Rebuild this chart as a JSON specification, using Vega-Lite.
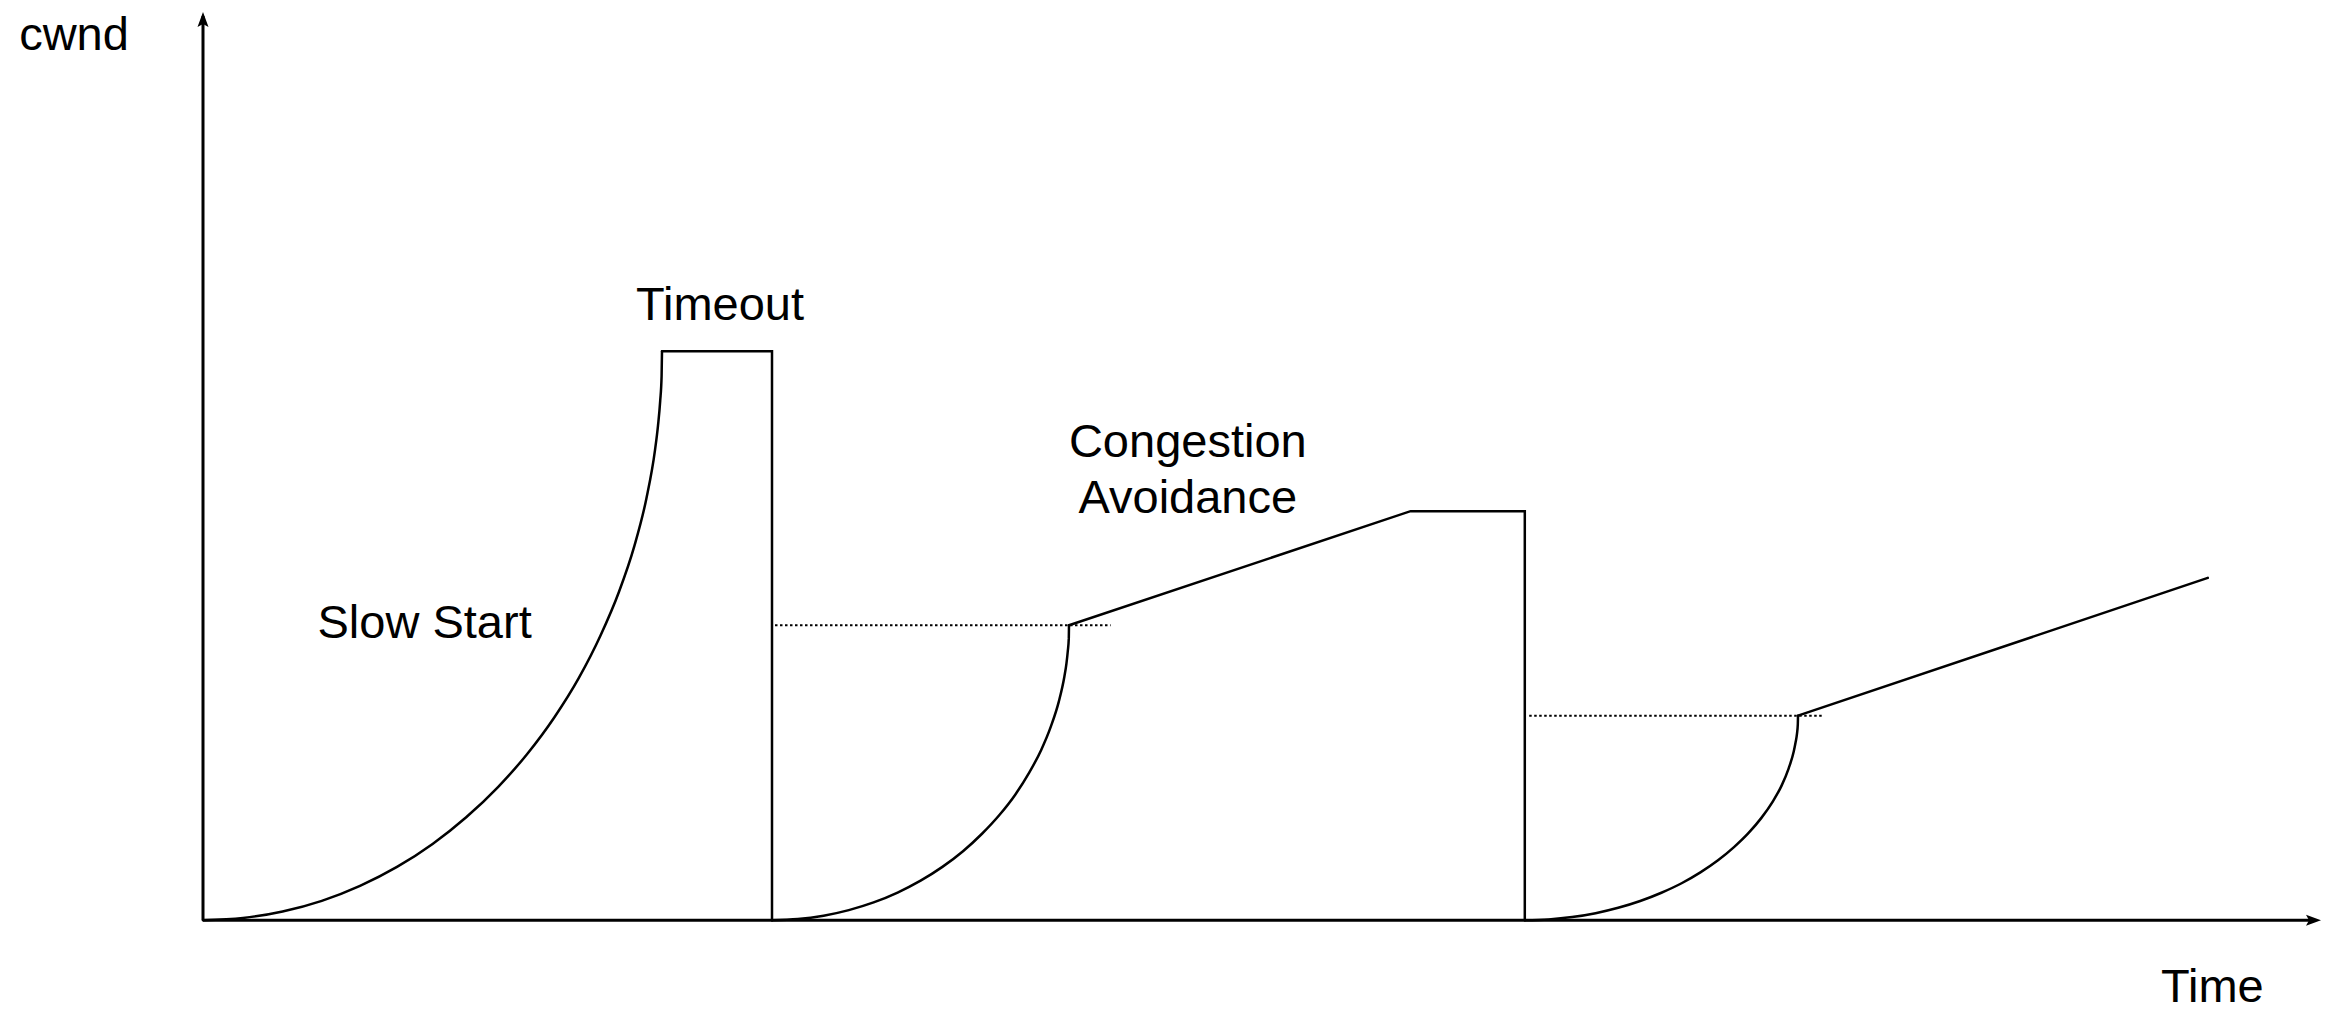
{
  "$schema": "https://vega.github.io/schema/vega-lite/v6.json",
  "width": 2328,
  "height": 1011,
  "autosize": {"type": "fit", "contains": "padding"},
  "padding": 0,
  "background": "white",
  "config": {"view": {"stroke": null}},
  "datasets": {
    "curves": [
      {"seg": "A", "o": 0, "t": 0, "c": 0},
      {"seg": "A", "o": 1, "t": 2.00, "c": 0.22},
      {"seg": "A", "o": 2, "t": 3.98, "c": 0.87},
      {"seg": "A", "o": 3, "t": 5.94, "c": 1.94},
      {"seg": "A", "o": 4, "t": 7.85, "c": 3.44},
      {"seg": "A", "o": 5, "t": 9.70, "c": 5.34},
      {"seg": "A", "o": 6, "t": 11.48, "c": 7.64},
      {"seg": "A", "o": 7, "t": 13.16, "c": 10.31},
      {"seg": "A", "o": 8, "t": 14.75, "c": 13.34},
      {"seg": "A", "o": 9, "t": 16.23, "c": 16.70},
      {"seg": "A", "o": 10, "t": 17.58, "c": 20.36},
      {"seg": "A", "o": 11, "t": 18.80, "c": 24.30},
      {"seg": "A", "o": 12, "t": 19.87, "c": 28.50},
      {"seg": "A", "o": 13, "t": 20.80, "c": 32.91},
      {"seg": "A", "o": 14, "t": 21.57, "c": 37.51},
      {"seg": "A", "o": 15, "t": 22.17, "c": 42.25},
      {"seg": "A", "o": 16, "t": 22.60, "c": 47.10},
      {"seg": "A", "o": 17, "t": 22.75, "c": 49.56},
      {"seg": "A", "o": 18, "t": 22.86, "c": 52.03},
      {"seg": "A", "o": 19, "t": 22.93, "c": 54.51},
      {"seg": "A", "o": 20, "t": 22.95, "c": 57.00},
      {"seg": "B", "o": 0, "t": 28.45, "c": 0},
      {"seg": "B", "o": 1, "t": 29.74, "c": 0.11},
      {"seg": "B", "o": 2, "t": 31.03, "c": 0.45},
      {"seg": "B", "o": 3, "t": 32.29, "c": 1.01},
      {"seg": "B", "o": 4, "t": 33.53, "c": 1.78},
      {"seg": "B", "o": 5, "t": 34.73, "c": 2.77},
      {"seg": "B", "o": 6, "t": 35.88, "c": 3.96},
      {"seg": "B", "o": 7, "t": 36.97, "c": 5.34},
      {"seg": "B", "o": 8, "t": 38.00, "c": 6.91},
      {"seg": "B", "o": 9, "t": 38.95, "c": 8.66},
      {"seg": "B", "o": 10, "t": 39.83, "c": 10.56},
      {"seg": "B", "o": 11, "t": 40.62, "c": 12.60},
      {"seg": "B", "o": 12, "t": 41.31, "c": 14.78},
      {"seg": "B", "o": 13, "t": 41.91, "c": 17.06},
      {"seg": "B", "o": 14, "t": 42.40, "c": 19.44},
      {"seg": "B", "o": 15, "t": 42.79, "c": 21.90},
      {"seg": "B", "o": 16, "t": 43.07, "c": 24.42},
      {"seg": "B", "o": 17, "t": 43.17, "c": 25.69},
      {"seg": "B", "o": 18, "t": 43.24, "c": 26.97},
      {"seg": "B", "o": 19, "t": 43.29, "c": 28.26},
      {"seg": "B", "o": 20, "t": 43.30, "c": 29.55},
      {"seg": "C", "o": 0, "t": 66.09, "c": 0},
      {"seg": "C", "o": 1, "t": 67.28, "c": 0.08},
      {"seg": "C", "o": 2, "t": 68.46, "c": 0.31},
      {"seg": "C", "o": 3, "t": 69.63, "c": 0.70},
      {"seg": "C", "o": 4, "t": 70.76, "c": 1.24},
      {"seg": "C", "o": 5, "t": 71.86, "c": 1.92},
      {"seg": "C", "o": 6, "t": 72.92, "c": 2.75},
      {"seg": "C", "o": 7, "t": 73.93, "c": 3.70},
      {"seg": "C", "o": 8, "t": 74.87, "c": 4.79},
      {"seg": "C", "o": 9, "t": 75.75, "c": 6.00},
      {"seg": "C", "o": 10, "t": 76.55, "c": 7.32},
      {"seg": "C", "o": 11, "t": 77.28, "c": 8.74},
      {"seg": "C", "o": 12, "t": 77.92, "c": 10.25},
      {"seg": "C", "o": 13, "t": 78.47, "c": 11.83},
      {"seg": "C", "o": 14, "t": 78.93, "c": 13.48},
      {"seg": "C", "o": 15, "t": 79.28, "c": 15.19},
      {"seg": "C", "o": 16, "t": 79.54, "c": 16.93},
      {"seg": "C", "o": 17, "t": 79.63, "c": 17.82},
      {"seg": "C", "o": 18, "t": 79.70, "c": 18.70},
      {"seg": "C", "o": 19, "t": 79.74, "c": 19.60},
      {"seg": "C", "o": 20, "t": 79.75, "c": 20.49}
    ],
    "straights": [
      {"seg": "A", "o": 0, "t": 22.95, "c": 57.00},
      {"seg": "A", "o": 1, "t": 28.45, "c": 57.00},
      {"seg": "A", "o": 2, "t": 28.45, "c": 0},
      {"seg": "B", "o": 0, "t": 43.30, "c": 29.55},
      {"seg": "B", "o": 1, "t": 60.38, "c": 40.98},
      {"seg": "B", "o": 2, "t": 66.09, "c": 40.98},
      {"seg": "B", "o": 3, "t": 66.09, "c": 0},
      {"seg": "C", "o": 0, "t": 79.75, "c": 20.49},
      {"seg": "C", "o": 1, "t": 100.24, "c": 34.30}
    ],
    "dotted": [
      {"seg": "D1", "o": 0, "t": 28.6, "c": 29.55},
      {"seg": "D1", "o": 1, "t": 45.38, "c": 29.55},
      {"seg": "D2", "o": 0, "t": 66.31, "c": 20.49},
      {"seg": "D2", "o": 1, "t": 80.94, "c": 20.49}
    ],
    "axes": [
      {"seg": "X", "o": 0, "t": 0, "c": 0},
      {"seg": "X", "o": 1, "t": 105.6, "c": 0},
      {"seg": "Y", "o": 0, "t": 0, "c": 0},
      {"seg": "Y", "o": 1, "t": 0, "c": 90.6}
    ],
    "arrows": [
      {"dir": "up", "t": 0, "c": 91.0},
      {"dir": "right", "t": 105.9, "c": 0}
    ],
    "labels": [
      {"label": "cwnd", "t": -6.45, "c": 88.6},
      {"label": "Time", "t": 100.47, "c": -6.8},
      {"label": "Timeout", "t": 25.85, "c": 61.5},
      {"label": "Congestion", "t": 49.24, "c": 47.85},
      {"label": "Avoidance", "t": 49.24, "c": 42.2},
      {"label": "Slow Start", "t": 11.08, "c": 29.7}
    ]
  },
  "encoding": {
    "x": {"field": "t", "type": "quantitative", "axis": null, "scale": {"domain": [-10.15, 106.25], "nice": false, "zero": false}},
    "y": {"field": "c", "type": "quantitative", "axis": null, "scale": {"domain": [-8.9, 92.2], "nice": false, "zero": false}}
  },
  "layer": [
    {
      "data": {"name": "dotted"},
      "mark": {"type": "line", "color": "black", "strokeWidth": 2, "strokeDash": [2.5, 2.5]},
      "encoding": {"detail": {"field": "seg"}, "order": {"field": "o", "type": "quantitative"}}
    },
    {
      "data": {"name": "curves"},
      "mark": {"type": "line", "color": "black", "strokeWidth": 2.5, "interpolate": "monotone", "strokeCap": "round"},
      "encoding": {"detail": {"field": "seg"}, "order": {"field": "o", "type": "quantitative"}}
    },
    {
      "data": {"name": "straights"},
      "mark": {"type": "line", "color": "black", "strokeWidth": 2.5, "strokeCap": "round"},
      "encoding": {"detail": {"field": "seg"}, "order": {"field": "o", "type": "quantitative"}}
    },
    {
      "data": {"name": "axes"},
      "mark": {"type": "line", "color": "black", "strokeWidth": 3},
      "encoding": {"detail": {"field": "seg"}, "order": {"field": "o", "type": "quantitative"}}
    },
    {
      "data": {"name": "arrows"},
      "mark": {"type": "point", "filled": true, "color": "black", "opacity": 1, "size": 400},
      "encoding": {
        "shape": {"field": "dir", "type": "nominal", "legend": null,
          "scale": {"domain": ["up", "right"], "range": ["M0,0L-0.55,1.5L0,1.2L0.55,1.5Z", "M0,0L-1.5,-0.55L-1.2,0L-1.5,0.55Z"]}}
      }
    },
    {
      "data": {"name": "labels"},
      "mark": {"type": "text", "font": "Liberation Sans", "fontSize": 47, "color": "black", "align": "center", "baseline": "middle"},
      "encoding": {"text": {"field": "label"}}
    }
  ]
}
